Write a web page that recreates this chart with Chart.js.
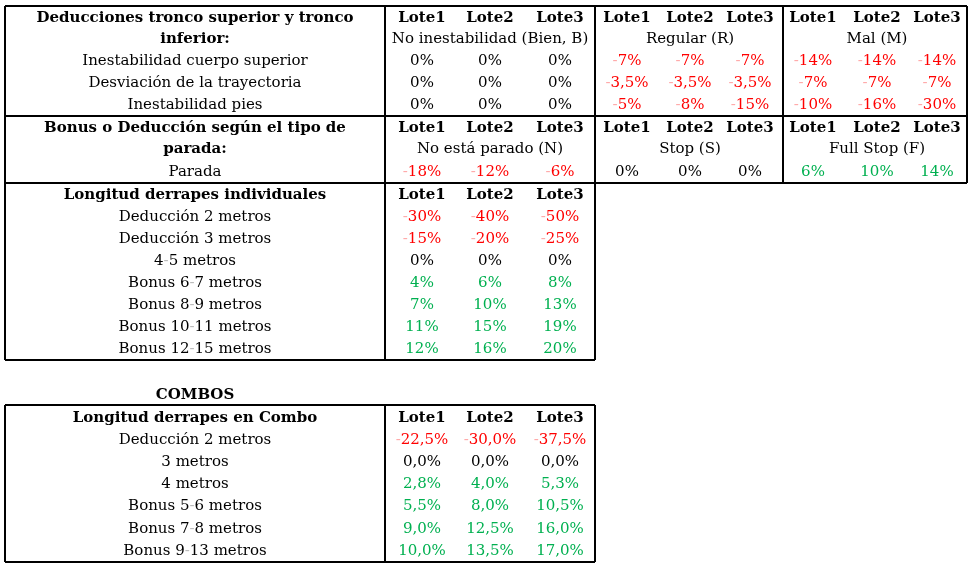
<!DOCTYPE html>
<html><head><meta charset="utf-8">
<script src="https://cdn.jsdelivr.net/npm/chart.js@4"></script>
<style>html,body{margin:0;padding:0;background:#fff}#wrap{width:970px;height:566px}</style>
</head><body><div id="wrap"><canvas id="c"></canvas></div>
<script>
const lotes = ['Lote1','Lote2','Lote3'];
const title1 = ['Deducciones tronco superior y tronco','inferior:'];
const groups1 = ['No inestabilidad (Bien, B)','Regular (R)','Mal (M)'];
const rows1 = ['Inestabilidad cuerpo superior','Desviación de la trayectoria','Inestabilidad pies'];
const vals1B = [['0%','0%','0%'],['0%','0%','0%'],['0%','0%','0%']];
const vals1R = [['-7%','-7%','-7%'],['-3,5%','-3,5%','-3,5%'],['-5%','-8%','-15%']];
const vals1M = [['-14%','-14%','-14%'],['-7%','-7%','-7%'],['-10%','-16%','-30%']];
const title2 = ['Bonus o Deducción según el tipo de','parada:'];
const groups2 = ['No está parado (N)','Stop (S)','Full Stop (F)'];
const rows2 = ['Parada'];
const vals2 = [['-18%','-12%','-6%'],['0%','0%','0%'],['6%','10%','14%']];
const title3 = 'Longitud derrapes individuales';
const rows3 = ['Deducción 2 metros','Deducción 3 metros','4-5 metros','Bonus 6-7 metros','Bonus 8-9 metros','Bonus 10-11 metros','Bonus 12-15 metros'];
const vals3 = [['-30%','-40%','-50%'],['-15%','-20%','-25%'],['0%','0%','0%'],['4%','6%','8%'],['7%','10%','13%'],['11%','15%','19%'],['12%','16%','20%']];
const combosTitle = 'COMBOS';
const title4 = 'Longitud derrapes en Combo';
const rows4 = ['Deducción 2 metros','3 metros','4 metros','Bonus 5-6 metros','Bonus 7-8 metros','Bonus 9-13 metros'];
const vals4 = [['-22,5%','-30,0%','-37,5%'],['0,0%','0,0%','0,0%'],['2,8%','4,0%','5,3%'],['5,5%','8,0%','10,5%'],['9,0%','12,5%','16,0%'],['10,0%','13,5%','17,0%']];

const FONT = '"DejaVu Serif", "Liberation Serif", serif';
const RED = '#ff0000', GREEN = '#00b050', PALE_RED = '#ffaaaa', PALE_GRAY = '#bbbbbb';
const colX = [[422,490,560],[627,690,750],[813,877,937]];

function valColor(v){
  if (v.startsWith('-')) return RED;
  const n = parseFloat(v.replace(',', '.'));
  return n === 0 ? '#000' : GREEN;
}

const tablePlugin = {
  id: 'table',
  afterDraw(chart){
    const ctx = chart.ctx, xs = chart.scales.x, ys = chart.scales.y;
    const X = v => xs.getPixelForValue(v), Y = v => ys.getPixelForValue(v);
    ctx.save();
    ctx.textBaseline = 'middle';
    function txt(s, x, y, bold, color, align){
      ctx.font = (bold ? 'bold ' : '') + '15px ' + FONT;
      ctx.fillStyle = color || '#000';
      ctx.textAlign = align || 'center';
      // render hyphens between digits lightly like reference
      if (/\d-\d/.test(s) && !bold) {
        const parts = s.split(/(?<=\d)-(?=\d)/);
        const full = parts.join('-');
        const w = ctx.measureText(full).width;
        let cx = X(x) - w/2;
        ctx.textAlign = 'left';
        parts.forEach((p,i)=>{
          ctx.fillStyle = color || '#000'; ctx.fillText(p, cx, Y(y)); cx += ctx.measureText(p).width;
          if (i < parts.length-1){ ctx.fillStyle = PALE_GRAY; ctx.fillText('-', cx, Y(y)); cx += ctx.measureText('-').width; }
        });
        return;
      }
      ctx.fillText(s, X(x), Y(y));
    }
    function val(v, x, y){
      const c = valColor(v);
      ctx.font = '15px ' + FONT;
      if (v.startsWith('-')) {
        const body = v.slice(1);
        const w = ctx.measureText(v).width;
        let cx = X(x) - w/2;
        ctx.textAlign = 'left';
        ctx.fillStyle = PALE_RED; ctx.fillText('-', cx, Y(y));
        cx += ctx.measureText('-').width;
        ctx.fillStyle = c; ctx.fillText(body, cx, Y(y));
      } else { ctx.textAlign = 'center'; ctx.fillStyle = c; ctx.fillText(v, X(x), Y(y)); }
    }
    function line(x1,y1,x2,y2,w){
      ctx.beginPath(); ctx.lineWidth = w || 2; ctx.strokeStyle = '#000';
      ctx.moveTo(X(x1),Y(y1)); ctx.lineTo(X(x2),Y(y2)); ctx.stroke();
    }
    function rect(x1,y1,x2,y2){ line(x1,y1,x2,y1); line(x2,y1,x2,y2); line(x2,y2,x1,y2); line(x1,y2,x1,y1); }

    // Section 1
    rect(5,6,967,116); line(385,6,385,116); line(595,6,595,116); line(783,6,783,116);
    txt(title1[0],195,18,true); txt(title1[1],195,39,true);
    const gc = [490,690,877];
    for (let g=0; g<3; g++){ lotes.forEach((l,i)=>txt(l,colX[g][i],18,true)); txt(groups1[g],gc[g],39,false); }
    const v1 = [vals1B, vals1R, vals1M];
    rows1.forEach((r,ri)=>{ const y = 61+ri*22; txt(r,195,y,false);
      for (let g=0; g<3; g++) v1[g][ri].forEach((v,i)=>val(v,colX[g][i],y)); });

    // Section 2
    rect(5,116,967,183); line(385,116,385,183); line(595,116,595,183); line(783,116,783,183);
    txt(title2[0],195,128,true); txt(title2[1],195,149,true);
    for (let g=0; g<3; g++){ lotes.forEach((l,i)=>txt(l,colX[g][i],128,true)); txt(groups2[g],gc[g],149,false);
      vals2[g].forEach((v,i)=>val(v,colX[g][i],172)); }
    txt(rows2[0],195,172,false);

    // Section 3
    rect(5,183,595,360); line(385,183,385,360);
    txt(title3,195,195,true); lotes.forEach((l,i)=>txt(l,colX[0][i],195,true));
    rows3.forEach((r,ri)=>{ const y = 217+ri*22; txt(r,195,y,false); vals3[ri].forEach((v,i)=>val(v,colX[0][i],y)); });

    // Combos
    txt(combosTitle,195,395,true);
    rect(5,405,595,562); line(385,405,385,562);
    txt(title4,195,418,true); lotes.forEach((l,i)=>txt(l,colX[0][i],418,true));
    rows4.forEach((r,ri)=>{ const y = 440+ri*22.2; txt(r,195,y,false); vals4[ri].forEach((v,i)=>val(v,colX[0][i],y)); });
    ctx.restore();
  }
};

new Chart(document.getElementById('c'), {
  type: 'scatter',
  data: { datasets: [{ data: [] }] },
  options: {
    responsive: true, maintainAspectRatio: false, animation: false,
    layout: { padding: 0 },
    plugins: { legend: { display: false }, tooltip: { enabled: false } },
    scales: {
      x: { type: 'linear', min: 0, max: 970, display: false },
      y: { type: 'linear', min: 0, max: 566, reverse: true, display: false }
    }
  },
  plugins: [tablePlugin]
});
</script></body></html>
